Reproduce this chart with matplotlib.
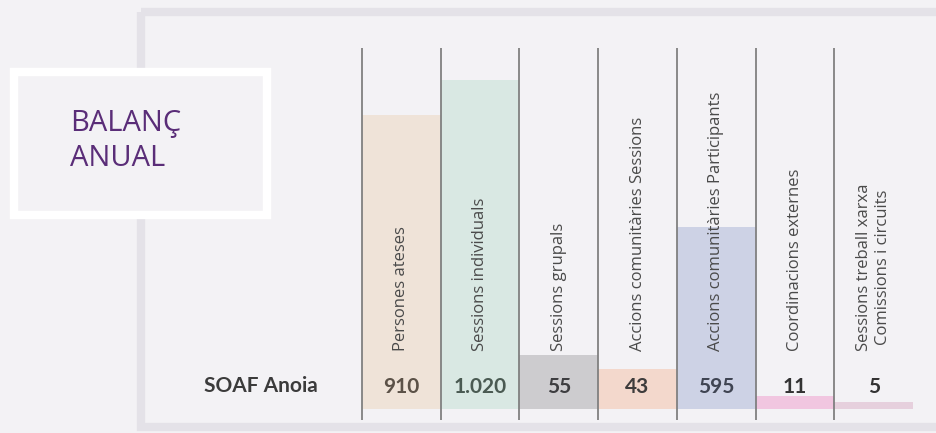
import matplotlib.pyplot as plt
from matplotlib.patches import Rectangle

# ---- data ----
categories = ["Persones ateses", "Sessions individuals", "Sessions grupals",
              "Accions comunitàries Sessions", "Accions comunitàries Participants",
              "Coordinacions externes", "Sessions treball xarxa\nComissions i circuits"]
value_labels = ["910", "1.020", "55", "43", "595", "11", "5"]
# bar heights as drawn in the original (small bars are exaggerated there)
bar_heights = [910, 1020, 168, 124, 563, 40, 22]
bar_colors = ["#efe3d8", "#d9e8e3", "#cdcccf", "#f3d8cc", "#cdd2e5", "#f1c6e0", "#e6d0dd"]
value_colors = ["#5b5147", "#4a5a52", "#3d3d40", "#3e3c3c", "#3f4452", "#333333", "#333333"]
row_label = "SOAF Anoia"
title = "BALANÇ\nANUAL"

W, H = 937, 433
bg = "#f3f2f5"
fig = plt.figure(figsize=(W / 100, H / 100), dpi=100, facecolor=bg)

# decoration layer in pixel coordinates
deco = fig.add_axes([0, 0, 1, 1])
deco.set_xlim(0, W); deco.set_ylim(H, 0); deco.axis("off")
deco.add_patch(Rectangle((141, 12), 820, 415, facecolor="none", edgecolor="#e4e2e8", linewidth=6))
deco.add_patch(Rectangle((14, 72), 253, 143, facecolor=bg, edgecolor="white", linewidth=6))
deco.text(70, 141, title, color="#5a2d78", fontsize=21, family="Open Sans",
          va="center", ha="left", linespacing=1.3)
deco.text(261, 386, row_label, color="#3b3b3b", fontsize=15, family="Lato",
          fontweight="bold", va="center", ha="center")

# bar chart: 7 columns from x=362 to 913, baseline y=409
px_per_unit = 0.323
left, right, base, top = 362, 913, 409, 48
ax = fig.add_axes([left / W, (H - base) / H, (right - left) / W, (base - top) / H])
ax.set_facecolor("none")
ax.set_xlim(0, len(categories))
ax.set_ylim(0, (base - top) / px_per_unit)
ax.axis("off")

x = list(range(len(categories)))
ax.bar(x, bar_heights, width=1, align="edge", color=bar_colors, linewidth=0)
ax.vlines(x, -11 / px_per_unit, (base - top) / px_per_unit, color="#808080",
          linewidth=1.3, clip_on=False)

label_y = (base - 351) / px_per_unit
value_y = (base - 387) / px_per_unit
for i, (cat, val) in enumerate(zip(categories, value_labels)):
    ax.text(i + 0.5, label_y, cat, rotation=90, ha="center", va="bottom",
            fontsize=12, family="Open Sans", color="#4a4a4a", linespacing=1.2)
    ax.text(i + 0.5, value_y, val, ha="center", va="center", fontsize=15,
            family="Lato", fontweight="bold", color=value_colors[i])

fig.savefig("out.png", dpi=100, facecolor=bg)
